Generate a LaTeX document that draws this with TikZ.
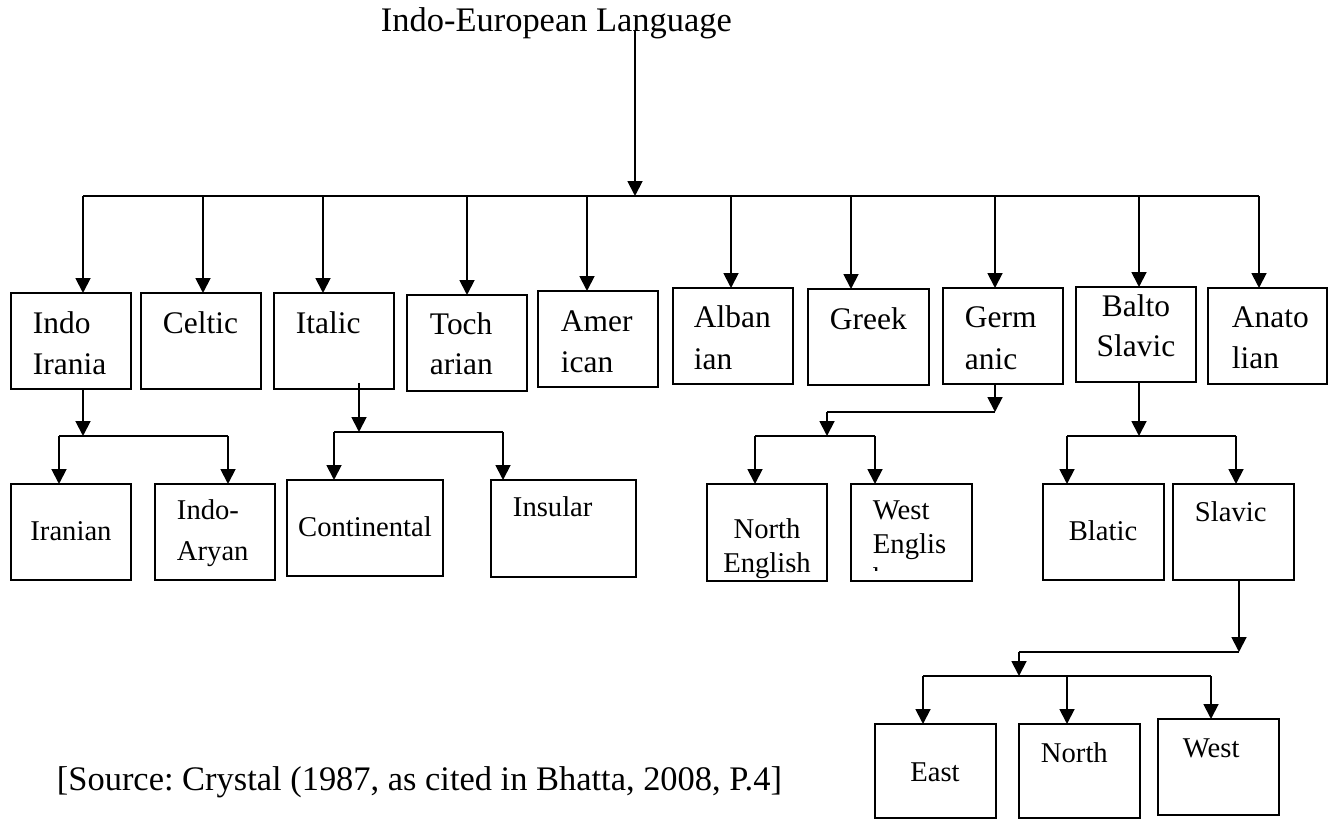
\documentclass[tikz,border=0pt]{standalone}
\usepackage{fontspec}
\setmainfont{Liberation Serif}
\usetikzlibrary{arrows.meta}
\frenchspacing
\newcommand\bx[5]{\node[box,anchor=north west,minimum width={(#4-#2)*0.02cm},minimum height={(#5-#3)*0.02cm}] (#1) at (#2,#3) {};}
\begin{document}
\begin{tikzpicture}[x=0.02cm,y=-0.02cm, line width=1.1pt,
  box/.style={draw, rectangle, inner sep=0pt, outer sep=0pt, line width=1.1pt},
  arr/.style={-{Triangle[width=8.5pt,length=8.5pt]}},
  big/.style={inner sep=0pt, anchor=base west, font=\fontsize{19.6}{23}\selectfont},
  lt/.style={inner sep=0pt, anchor=base west, font=\fontsize{17.9}{21}\selectfont},
  ltc/.style={lt, anchor=base},
  lm/.style={inner sep=0pt, anchor=base west, font=\fontsize{16.3}{19}\selectfont},
  lmc/.style={lm, anchor=base}]
\useasboundingbox (0,0) rectangle (1329,820);

% title and source
\node[big] (title) at (380,32) {Indo-European Language};
\node[big] (source) at (56,790) {[Source: Crystal (1987, as cited in Bhatta, 2008, P.4]};

% top row boxes
\bx{indo}{11}{293}{131}{389}
\bx{celtic}{141}{293}{261}{389}
\bx{italic}{274}{293}{394}{389}
\bx{toch}{407}{295}{527}{391}
\bx{amer}{538}{291}{658}{387}
\bx{alban}{673}{288}{793}{384}
\bx{greek}{808}{289}{929}{385}
\bx{germ}{943}{288}{1063}{384}
\bx{balto}{1076}{287}{1196}{382}
\bx{anato}{1208}{288}{1327}{384}

\node[lt] (t-indo1) at (32,334) {Indo};
\node[lt] (t-indo2) at (32,375) {Irania};
\node[lt] (t-celtic) at (162,334) {Celtic};
\node[lt] (t-italic) at (295,334) {Italic};
\node[lt] (t-toch1) at (429,335) {Toch};
\node[lt] (t-toch2) at (429,375) {arian};
\node[lt] (t-amer1) at (560,332) {Amer};
\node[lt] (t-amer2) at (560,373) {ican};
\node[lt] (t-alban1) at (693,328) {Alban};
\node[lt] (t-alban2) at (693,370) {ian};
\node[lt] (t-greek) at (829,330) {Greek};
\node[lt] (t-germ1) at (964,328) {Germ};
\node[lt] (t-germ2) at (964,370) {anic};
\node[ltc] (t-balto1) at (1136,317) {Balto};
\node[ltc] (t-balto2) at (1136,357) {Slavic};
\node[lt] (t-anato1) at (1231,328) {Anato};
\node[lt] (t-anato2) at (1231,369) {lian};

% second row boxes
\bx{iran}{11}{484}{131}{580}
\bx{aryan}{155}{484}{275}{580}
\bx{cont}{287}{480}{443}{576}
\bx{insul}{491}{480}{636}{577}
\bx{neng}{707}{484}{827}{581}
\bx{weng}{851}{484}{972}{581}
\bx{blat}{1043}{484}{1164}{580}
\bx{slav}{1173}{484}{1294}{580}

\node[lmc] (t-iran) at (71,541) {Iranian};
\node[lm] (t-aryan1) at (176,520) {Indo-};
\node[lm] (t-aryan2) at (176,561) {Aryan};
\node[lmc] (t-cont) at (365,537) {Continental};
\node[lm] (t-insul) at (512,517) {Insular};
\node[lmc] (t-neng1) at (767,539) {North};
\node[lmc] (t-neng2) at (767,573) {English};
\node[lm] (t-weng1) at (872,520) {West};
\node[lm] (t-weng2) at (872,554) {Englis};
\begin{scope}
  \clip (851,484) rectangle (972,571);
  \node[lm] (t-weng3) at (872,588) {h};
\end{scope}
\node[lmc] (t-blat) at (1103,541) {Blatic};
\node[lm] (t-slav) at (1194,522) {Slavic};

% bottom row boxes
\bx{east}{875}{724}{996}{818}
\bx{north}{1019}{724}{1140}{818}
\bx{west}{1158}{719}{1279}{815}
\node[lmc] (t-east) at (935,781) {East};
\node[lm] (t-north) at (1040,762) {North};
\node[lm] (t-west) at (1182,757) {West};

% main connectors
\coordinate (root) at (635,30);
\coordinate (bm) at (635,196);
\coordinate (bl) at (83,196);
\coordinate (br) at (1259,196);
\draw[arr] (root) -- (bm);
\draw (bl) -- (br);
\foreach \n/\x in {indo/83, celtic/203, italic/323, toch/467, amer/587, alban/731, greek/851, germ/995, balto/1139, anato/1259}{
  \coordinate (a-\n) at (\x,196);
  \draw[arr] (a-\n) -- (a-\n |- \n.north);
}

% Indo Iranian
\coordinate (i1) at (83,436);
\coordinate (i1l) at (59,436);
\coordinate (i1r) at (228,436);
\draw[arr] (indo.south -| i1) -- (i1);
\draw (i1l) -- (i1r);
\draw[arr] (i1l) -- (i1l |- iran.north);
\draw[arr] (i1r) -- (i1r |- aryan.north);

% Italic
\coordinate (it0) at (359,383);
\coordinate (it1) at (359,432);
\coordinate (it1l) at (334,432);
\coordinate (it1r) at (503,432);
\draw[arr] (it0) -- (it1);
\draw (it1l) -- (it1r);
\draw[arr] (it1l) -- (it1l |- cont.north);
\draw[arr] (it1r) -- (it1r |- insul.north);

% Germanic
\coordinate (g1) at (995,412);
\coordinate (g2) at (827,412);
\coordinate (g3) at (827,436);
\coordinate (g3l) at (755,436);
\coordinate (g3r) at (875,436);
\draw[arr] (germ.south -| g1) -- (g1);
\draw (g1) -- (g2);
\draw[arr] (g2) -- (g3);
\draw (g3l) -- (g3r);
\draw[arr] (g3l) -- (g3l |- neng.north);
\draw[arr] (g3r) -- (g3r |- weng.north);

% Balto Slavic
\coordinate (s1) at (1139,436);
\coordinate (s1l) at (1067,436);
\coordinate (s1r) at (1236,436);
\draw[arr] (balto.south -| s1) -- (s1);
\draw (s1l) -- (s1r);
\draw[arr] (s1l) -- (s1l |- blat.north);
\draw[arr] (s1r) -- (s1r |- slav.north);

% Slavic
\coordinate (v1) at (1239,652);
\coordinate (v2) at (1019,652);
\coordinate (v3) at (1019,676);
\coordinate (v3l) at (923,676);
\coordinate (v3m) at (1067,676);
\coordinate (v3r) at (1211,676);
\draw[arr] (slav.south -| v1) -- (v1);
\draw (v1) -- (v2);
\draw[arr] (v2) -- (v3);
\draw (v3l) -- (v3r);
\draw[arr] (v3l) -- (v3l |- east.north);
\draw[arr] (v3m) -- (v3m |- north.north);
\draw[arr] (v3r) -- (v3r |- west.north);
\end{tikzpicture}
\end{document}
